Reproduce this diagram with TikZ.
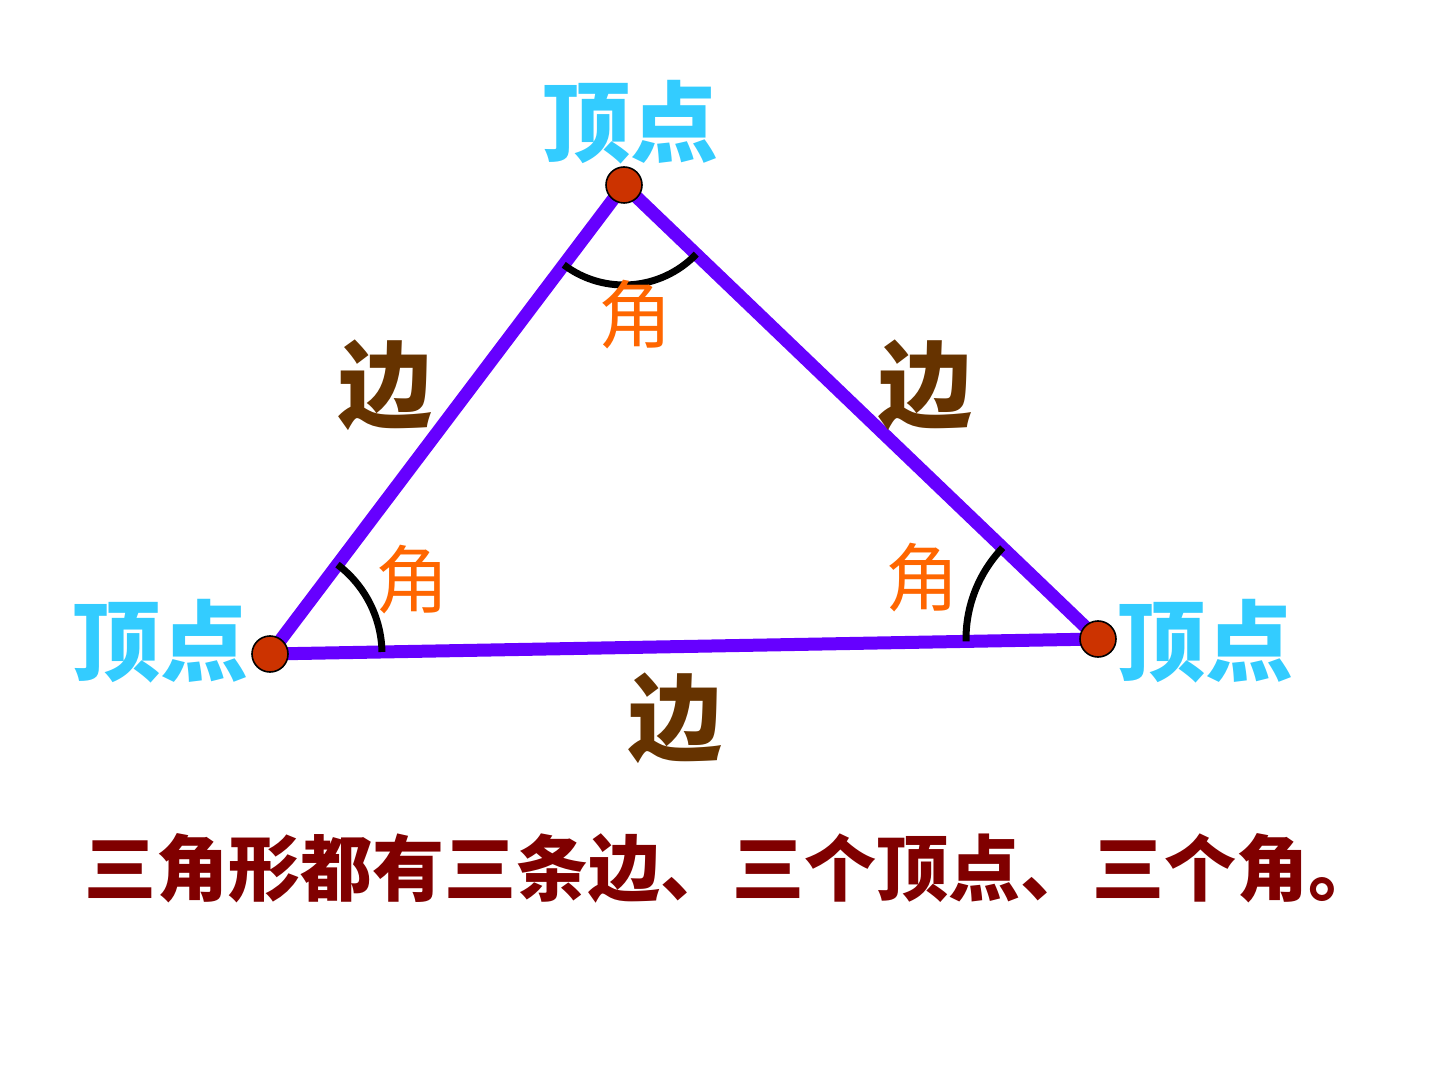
\documentclass[tikz,border=0pt]{standalone}
\usepackage{fontspec}
\newfontfamily\cjk{Noto Sans CJK SC}
\usepackage{tikz}
\usetikzlibrary{angles}
\definecolor{edgepurple}{HTML}{6600FF}
\definecolor{vertexcyan}{HTML}{33CCFF}
\definecolor{sidebrown}{HTML}{663300}
\definecolor{angleorange}{HTML}{FF6600}
\definecolor{dotred}{HTML}{CC3300}
\definecolor{notered}{HTML}{800000}

\begin{document}
\begin{tikzpicture}[x=0.5pt,y=-0.5pt,inner sep=0pt]
          \tikzstyle{vlabel}=[text=vertexcyan,font=\cjk\bfseries\fontsize{44pt}{48pt}\selectfont]
          \tikzstyle{slabel}=[text=sidebrown,font=\cjk\bfseries\fontsize{47pt}{50pt}\selectfont]
          \tikzstyle{alabel}=[text=angleorange,font=\cjk\fontsize{37pt}{40pt}\selectfont]
          \tikzstyle{dot}=[circle,fill=dotred,draw=black,line width=0.8pt,minimum size=18pt]
          \tikzstyle{anglearc}=[draw,line width=3.5pt]
          \useasboundingbox (0,0) rectangle (1440,1080);
          \coordinate (T) at (624,185);
          \coordinate (L) at (270,654);
          \coordinate (R) at (1098,639);
          % sides
          \draw[edgepurple,line width=6.5pt,line join=round] (T) -- (R) -- (L) -- cycle;
          % angle marks
          \path pic[anglearc,angle radius=50pt] {angle=L--T--R};
          \path pic[anglearc,angle radius=56pt] {angle=R--L--T};
          \path pic[anglearc,angle radius=66pt] {angle=T--R--L};
          % vertices
          \node[dot] (dT) at (T) {};
          \node[dot] (dL) at (L) {};
          \node[dot] (dR) at (R) {};
          \node[vlabel] (vT) at (630,122) {顶点};
          \node[vlabel] (vL) at (160,641) {顶点};
          \node[vlabel] (vR) at (1205,641) {顶点};
          \node[slabel] (sL) at (385,385) {边};
          \node[slabel] (sR) at (925,385) {边};
          \node[slabel] (sB) at (675,718) {边};
          \node[alabel] (aT) at (635,315) {角};
          \node[alabel] (aL) at (412,580) {角};
          \node[alabel] (aR) at (922,578) {角};
          \node[text=notered,font=\cjk\bfseries\fontsize{36pt}{40pt}\selectfont] (note) at (732,868)
            {三角形都有三条边、三个顶点、三个角。};
        \end{tikzpicture}
\end{document}
